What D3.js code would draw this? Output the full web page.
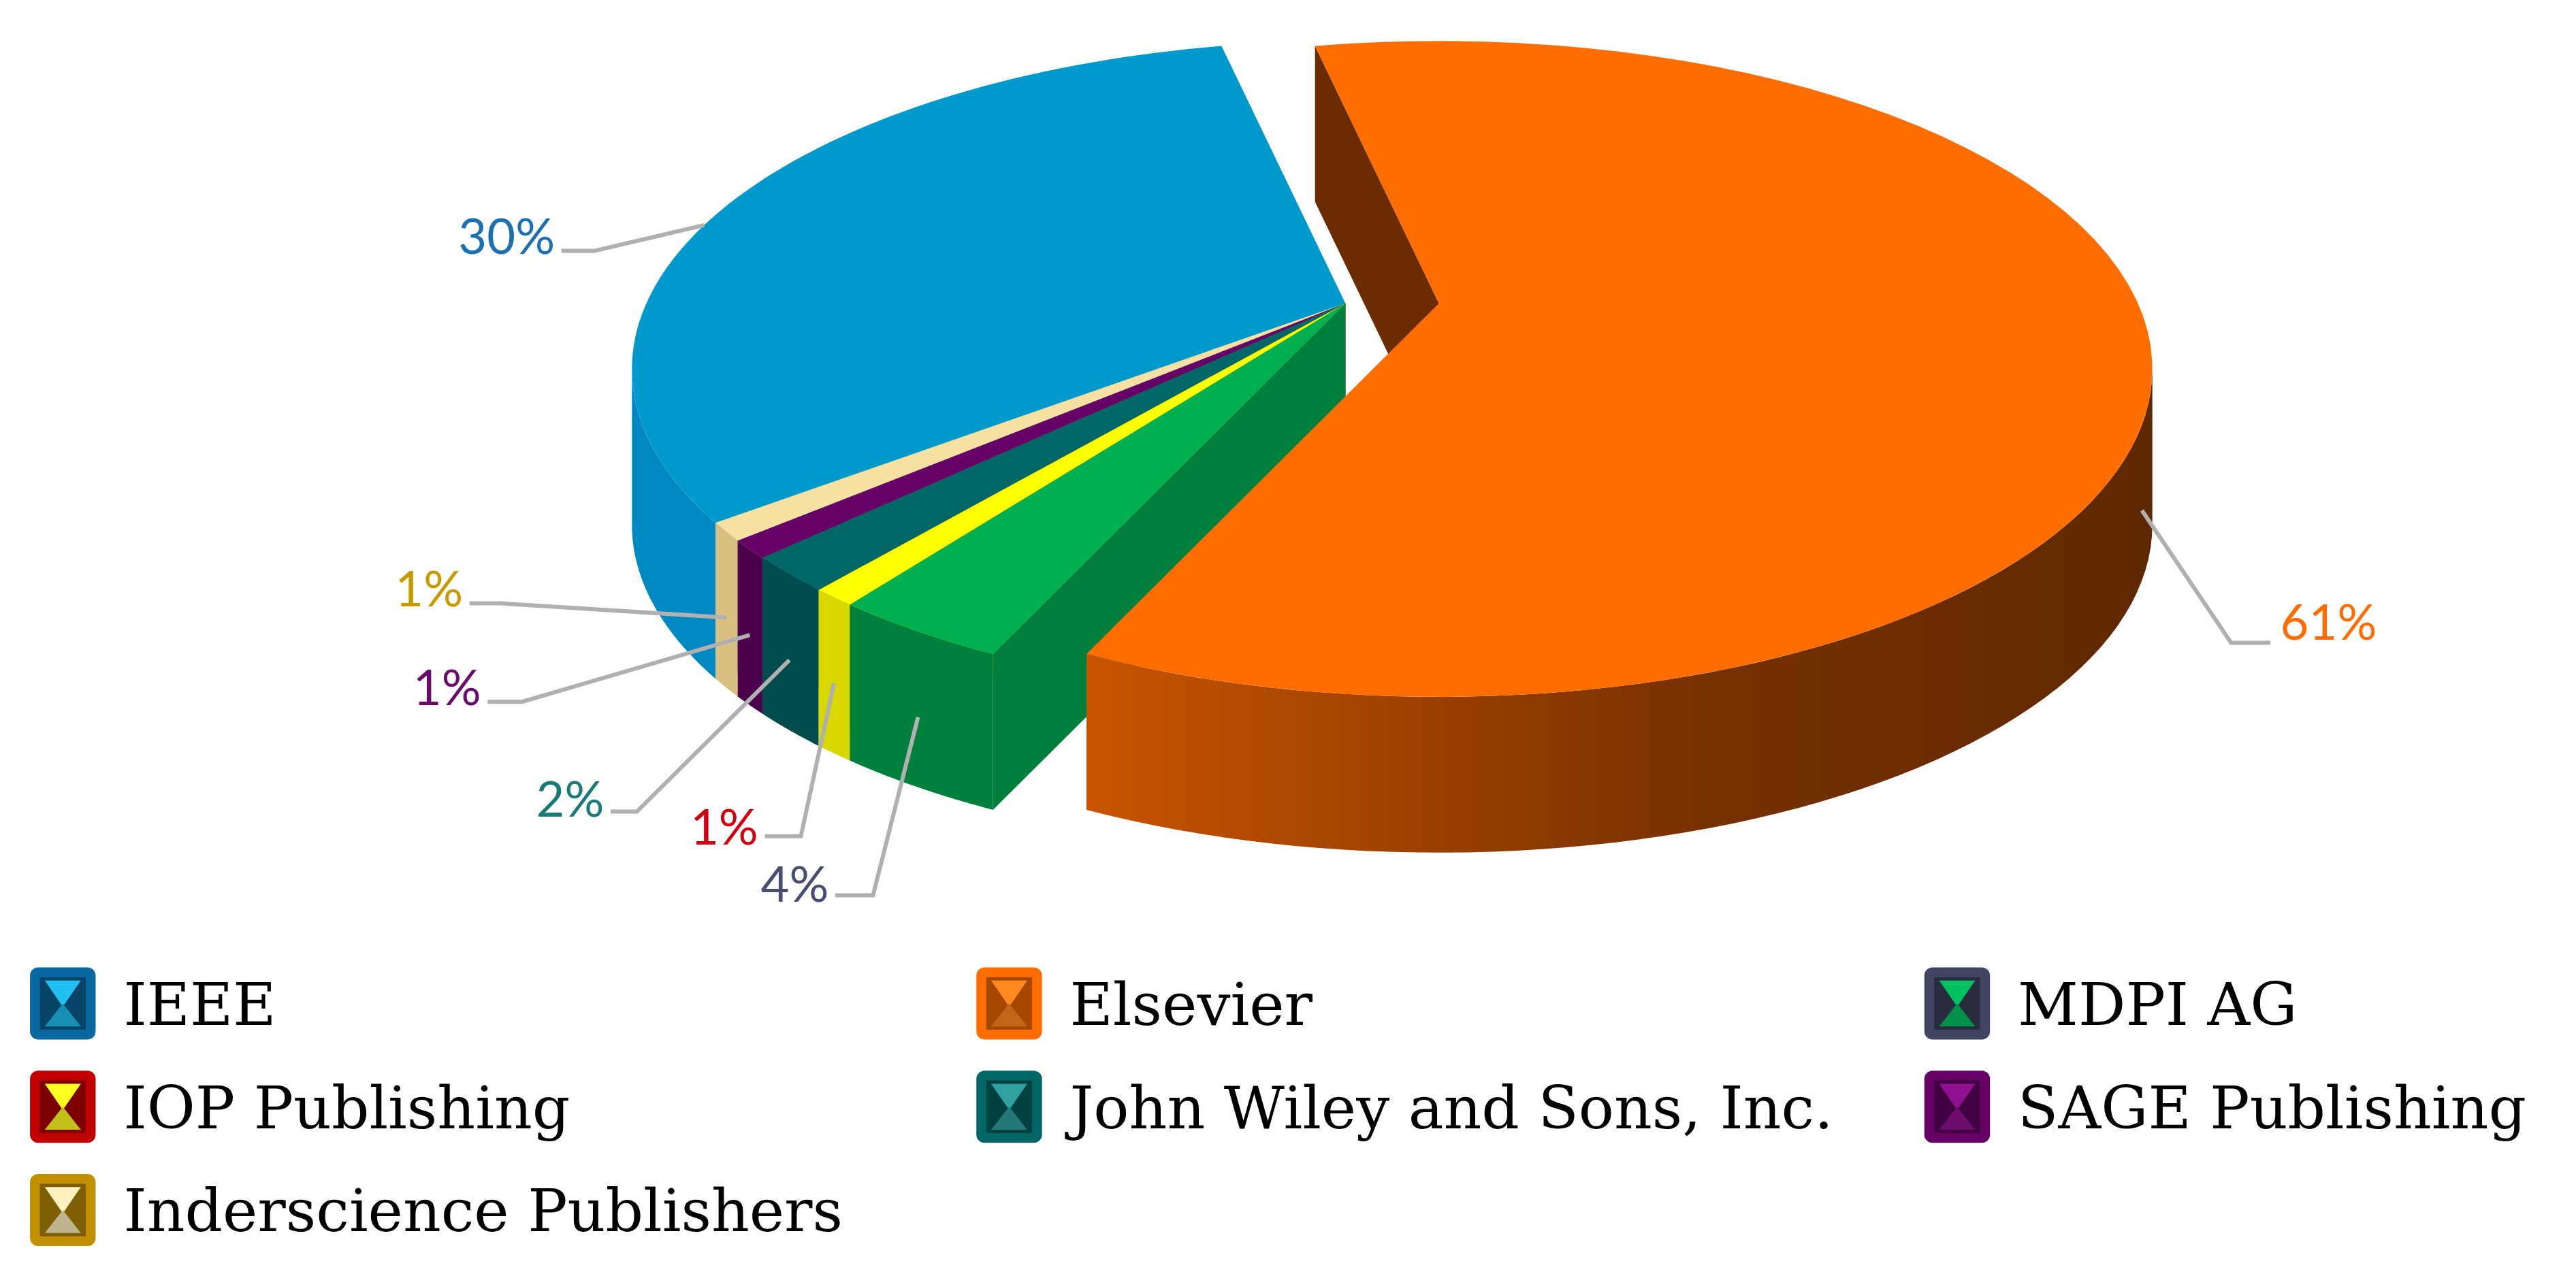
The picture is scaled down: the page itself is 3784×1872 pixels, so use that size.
<!DOCTYPE html>
<html><head><meta charset="utf-8">
<script src="https://cdn.jsdelivr.net/npm/d3@7"></script>
<style>html,body{margin:0;padding:0;background:#fff;overflow:hidden}</style>
</head><body>
<svg id="c"></svg>
<script>
const categories = ["Elsevier","MDPI AG","IOP Publishing","John Wiley and Sons, Inc.","SAGE Publishing","Inderscience Publishers","IEEE"];
const values = [61,4,1,2,1,1,30];
const pctLabels = ["61%","4%","1%","2%","1%","1%","30%"];
const sliceColors = ["#ff6d00","#00b050","#ffff00","#006666","#660066","#f7e1a2","#0099cc"];
const sideColors = ["#8a3a00","#00803c","#d8d800","#004c4c","#4a004a","#d8c080","#0088c0"];
const labelColors = ["#ff6d00","#4a4e6e","#d00010","#1a7a78","#6a0a6a","#c89a00","#1a70b0"];
const legendOrder = ["IEEE","Elsevier","MDPI AG","IOP Publishing","John Wiley and Sons, Inc.","SAGE Publishing","Inderscience Publishers"];
const legendBorder = {"IEEE":"#0a68a0","Elsevier":"#ff6d00","MDPI AG":"#3f4460","IOP Publishing":"#c00000","John Wiley and Sons, Inc.":"#006666","SAGE Publishing":"#660066","Inderscience Publishers":"#c09000"};
const legendInner = {"IEEE":"#20c0f0","Elsevier":"#ff8a20","MDPI AG":"#00c060","IOP Publishing":"#ffff20","John Wiley and Sons, Inc.":"#30a0a0","SAGE Publishing":"#901090","Inderscience Publishers":"#fff0c0"};

const W=1570,H=777;
const svg=d3.select("#c").attr("width",3784).attr("height",1872).attr("viewBox",`0 0 ${W} ${H}`);
const defs=svg.append("defs");
const g1=defs.append("linearGradient").attr("id","elsSide").attr("x1","0").attr("x2","1");
g1.append("stop").attr("offset","0").attr("stop-color","#c85400");
g1.append("stop").attr("offset","0.55").attr("stop-color","#7a3200");
g1.append("stop").attr("offset","1").attr("stop-color","#5e2800");

const cx=820, cy=225, rx=435, ry=200, depth=95, vLift=40;
const explode=[[57,0],[0,0],[0,0],[0,0],[0,0],[0,0],[0,0]];
const toRad=d=>d*Math.PI/180;
const startDeg=-10;
const pie=d3.pie().sort(null).value(d=>d).startAngle(toRad(startDeg)).endAngle(toRad(startDeg+360));
const arcs=pie(values);
const P=(i,a,r,dz)=>{
  if(r===0) return [cx+explode[i][0], cy+explode[i][1]-vLift+(dz||0)];
  return [cx+explode[i][0]+rx*Math.sin(a), cy+explode[i][1]-ry*Math.cos(a)+(dz||0)];
};

function topPath(i,a0,a1){
  const n=80,pts=[P(i,a0,0)];
  for(let k=0;k<=n;k++){pts.push(P(i,a0+(a1-a0)*k/n,1));}
  return "M"+pts.map(p=>p.join(",")).join("L")+"Z";
}
function outerPath(i,a0,a1){
  const lo=Math.max(a0,Math.PI/2), hi=Math.min(a1,3*Math.PI/2);
  if(hi<=lo) return null;
  const n=60,top=[],bot=[];
  for(let k=0;k<=n;k++){const a=lo+(hi-lo)*k/n;top.push(P(i,a,1));bot.push(P(i,a,1,depth));}
  return "M"+top.concat(bot.reverse()).map(p=>p.join(",")).join("L")+"Z";
}
function radialPath(i,a){
  const pts=[P(i,a,0),P(i,a,1),P(i,a,1,depth),P(i,a,0,depth)];
  return "M"+pts.map(p=>p.join(",")).join("L")+"Z";
}
function drawGroup(idx){
  const g=svg.append("g");
  idx.forEach(i=>{const d=arcs[i];
    if(Math.sin(d.startAngle)<0) g.append("path").attr("d",radialPath(i,d.startAngle)).attr("fill",i===0?"#6a2c00":sideColors[i]);
    if(Math.sin(d.endAngle)>0) g.append("path").attr("d",radialPath(i,d.endAngle)).attr("fill",i===0?"#6a2c00":sideColors[i]);
  });
  idx.forEach(i=>{const d=arcs[i];const p=outerPath(i,d.startAngle,d.endAngle);
    if(p) g.append("path").attr("d",p).attr("fill",i===0?"url(#elsSide)":sideColors[i]);});
  idx.forEach(i=>{const d=arcs[i];
    g.append("path").attr("d",topPath(i,d.startAngle,d.endAngle)).attr("fill",sliceColors[i]);});
}
drawGroup([6,5,4,3,2,1]);
drawGroup([0]);

// labels
const labelPos=[[1390,380,"start"],[505,540,"end"],[462,505,"end"],[368,488,"end"],[293,420,"end"],[282,360,"end"],[338,145,"end"]];
const elbow=[[1360,392],[532,546],[488,510],[388,495],[318,428],[305,368],[362,153]];
const lg=svg.append("g");
arcs.forEach((d,i)=>{
  const mid=(d.startAngle+d.endAngle)/2;
  const front=Math.cos(mid)<0;
  const tip=P(i,mid,1,front?depth*0.55:0);
  const lp=labelPos[i];
  const tx=lp[2]==="start"?lp[0]-6:lp[0]+4;
  lg.append("path").attr("d",`M${tx},${elbow[i][1]}L${elbow[i][0]},${elbow[i][1]}L${tip[0]},${tip[1]}`)
    .attr("fill","none").attr("stroke","#b0b0b0").attr("stroke-width",2.5);
  lg.append("text").attr("x",lp[0]).attr("y",lp[1]+10).attr("text-anchor",lp[2])
    .attr("font-family","Lato, 'Open Sans', sans-serif").attr("font-size",30).attr("fill",labelColors[i]).text(pctLabels[i]);
});

// legend
const colX=[18,595,1173], rowY=[590,653,716];
const leg=svg.append("g");
legendOrder.forEach((name,k)=>{
  const x=colX[k%3], y=rowY[Math.floor(k/3)];
  const m=leg.append("g").attr("transform",`translate(${x},${y})`);
  m.append("rect").attr("width",40).attr("height",44).attr("rx",5).attr("fill",legendBorder[name]);
  m.append("rect").attr("x",6).attr("y",6).attr("width",28).attr("height",32).attr("fill",d3.color(legendBorder[name]).darker(1.2));
  m.append("path").attr("d","M9,8L31,8L20,24Z").attr("fill",legendInner[name]);
  m.append("path").attr("d","M9,36L31,36L20,22Z").attr("fill",d3.color(legendInner[name]).darker(0.8));
  leg.append("text").attr("x",x+57).attr("y",y+35).attr("font-family","'DejaVu Serif', serif")
    .attr("font-size",36).attr("fill","#000").text(name);
});
</script></body></html>
